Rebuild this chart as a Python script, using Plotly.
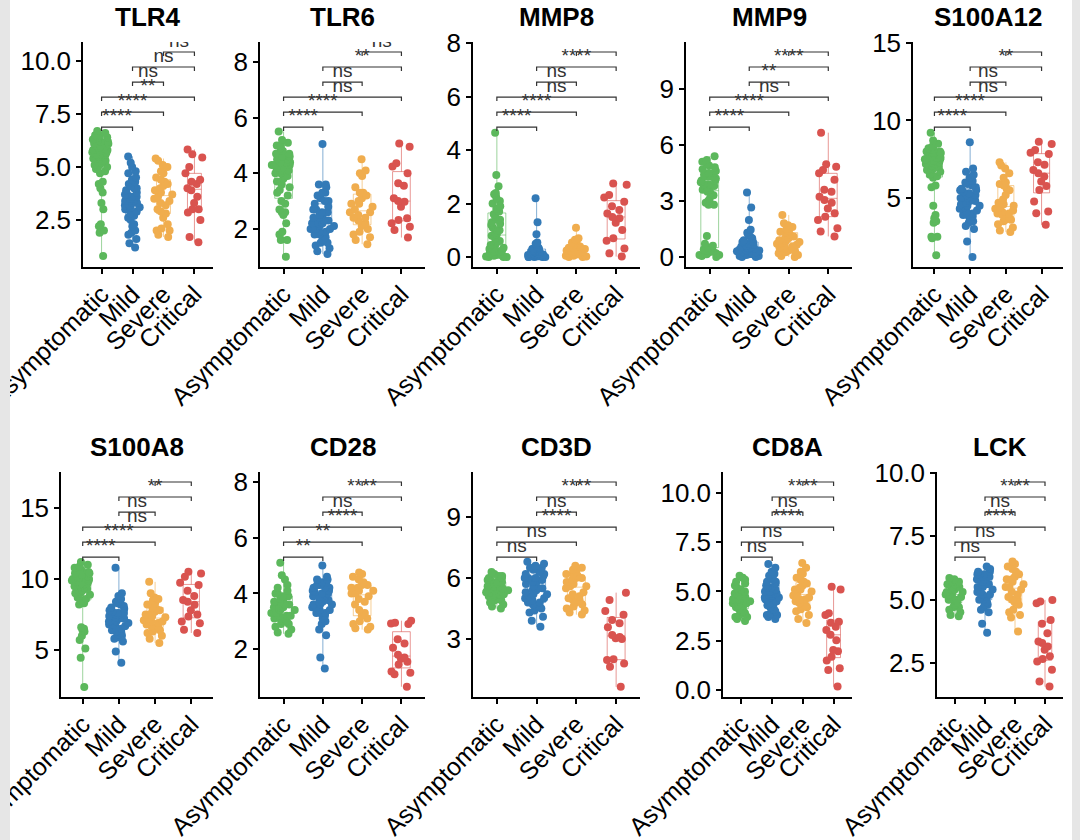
import plotly.graph_objects as go

groups = ["Asymptomatic", "Mild", "Severe", "Critical"]
colors = ["#5cb85c", "#337ab7", "#f0ad4e", "#d9534f"]
genes = ["TLR4", "TLR6", "MMP8", "MMP9", "S100A12", "S100A8", "CD28", "CD3D", "CD8A", "LCK"]
pairs = [(0, 1), (0, 2), (0, 3), (1, 2), (1, 3), (2, 3)]

# ---------------- data ----------------
tlr4_asym = [0.8, 1.9, 2.0, 2.2, 2.3, 3.0, 3.3, 3.8, 4.0, 4.2, 4.3, 4.7, 4.8, 4.9, 5.0, 5.1, 5.1, 5.2, 5.3, 5.3, 5.4, 5.4, 5.5, 5.5, 5.6, 5.6, 5.7, 5.7, 5.8, 5.8, 5.9, 5.9, 6.0, 6.0, 6.1, 6.1, 6.2, 6.2, 6.3, 6.3, 6.4, 6.4, 6.5, 6.5, 6.6, 6.7, 5.0, 5.2, 5.6, 6.0]
tlr4_mild = [1.2, 1.4, 1.6, 1.8, 1.9, 2.0, 2.2, 2.3, 2.5, 2.6, 2.7, 2.8, 2.9, 3.0, 3.0, 3.1, 3.1, 3.2, 3.2, 3.3, 3.3, 3.4, 3.4, 3.4, 3.5, 3.5, 3.6, 3.6, 3.7, 3.7, 3.8, 3.9, 4.0, 4.0, 4.1, 4.2, 4.3, 4.4, 4.5, 4.7, 4.8, 5.0, 5.2, 5.5]
tlr4_severe = [1.7, 1.8, 2.0, 2.0, 2.1, 2.3, 2.6, 2.8, 2.9, 3.0, 3.2, 3.3, 3.4, 3.5, 3.6, 3.7, 3.8, 3.9, 4.0, 4.1, 4.2, 4.3, 4.4, 4.5, 4.7, 4.8, 5.0, 5.1, 5.3, 5.4]
tlr4_critical = [1.45, 1.7, 2.5, 2.85, 3.0, 3.0, 3.3, 3.6, 3.9, 4.0, 4.2, 4.3, 4.4, 4.7, 5.0, 5.45, 5.6, 5.83]

tlr6_asym = [1.0, 1.6, 1.6, 1.8, 1.9, 2.2, 2.5, 2.6, 2.6, 2.7, 2.9, 3.0, 3.3, 3.4, 3.5, 3.6, 3.7, 3.7, 3.8, 3.9, 4.0, 4.0, 4.1, 4.1, 4.2, 4.2, 4.3, 4.3, 4.4, 4.4, 4.5, 4.5, 4.6, 4.6, 4.7, 4.7, 4.8, 4.9, 5.0, 5.0, 5.1, 5.2, 5.5, 4.3, 3.9, 4.1, 4.4, 3.2]
tlr6_mild = [1.1, 1.2, 1.3, 1.4, 1.5, 1.6, 1.7, 1.8, 1.8, 1.9, 1.9, 2.0, 2.0, 2.1, 2.1, 2.2, 2.2, 2.3, 2.3, 2.4, 2.4, 2.5, 2.5, 2.6, 2.6, 2.7, 2.7, 2.8, 2.9, 3.0, 3.0, 3.1, 3.2, 3.3, 3.3, 3.5, 3.6, 3.6, 5.05, 2.2, 2.0, 1.5]
tlr6_severe = [1.45, 1.6, 1.7, 1.8, 1.9, 2.0, 2.1, 2.2, 2.3, 2.4, 2.5, 2.6, 2.6, 2.7, 2.8, 2.9, 3.0, 3.1, 3.2, 3.3, 3.3, 3.5, 3.9, 4.0, 4.1, 4.5, 2.4, 2.9]
tlr6_critical = [1.69, 1.96, 2.08, 2.32, 2.38, 2.8, 2.98, 3.1, 3.55, 3.64, 4.0, 4.24, 4.36, 4.95, 5.07, 2.2, 3.0]

mmp8_asym = [0.0, 0.0, 0.02, 0.05, 0.05, 0.08, 0.1, 0.1, 0.15, 0.2, 0.25, 0.3, 0.35, 0.4, 0.45, 0.5, 0.55, 0.6, 0.7, 0.8, 0.85, 0.9, 1.0, 1.1, 1.2, 1.25, 1.3, 1.4, 1.5, 1.6, 1.7, 1.8, 1.9, 2.0, 2.1, 2.2, 2.3, 2.35, 2.4, 2.65, 3.07, 4.65, 0.0, 0.3, 1.0, 1.4, 0.2, 0.6]
mmp8_mild = [0.0, 0.0, 0.0, 0.0, 0.02, 0.03, 0.05, 0.05, 0.07, 0.1, 0.1, 0.12, 0.15, 0.15, 0.18, 0.2, 0.2, 0.22, 0.25, 0.25, 0.3, 0.3, 0.35, 0.4, 0.45, 0.5, 0.55, 0.85, 1.3, 2.2, 0.0, 0.05, 0.1, 0.08, 0.2, 0.12, 0.3, 0.02, 0.15, 0.06]
mmp8_severe = [0.0, 0.0, 0.02, 0.05, 0.08, 0.1, 0.1, 0.15, 0.15, 0.2, 0.2, 0.25, 0.3, 0.3, 0.35, 0.35, 0.4, 0.45, 0.5, 0.55, 0.6, 0.65, 0.7, 1.1, 0.05, 0.25, 0.4, 0.12]
mmp8_critical = [0.02, 0.14, 0.32, 0.61, 0.7, 1.01, 1.28, 1.45, 1.5, 1.63, 1.76, 2.07, 2.23, 2.32, 2.7, 2.75, 1.9]

mmp9_asym = [2.8, 2.8, 2.9, 3.0, 3.1, 3.3, 3.4, 3.5, 3.6, 3.6, 3.7, 3.8, 3.9, 3.9, 4.0, 4.1, 4.1, 4.2, 4.3, 4.3, 4.4, 4.5, 4.5, 4.6, 4.7, 4.8, 4.9, 5.0, 5.1, 5.2, 5.4, 0.0, 0.05, 0.1, 0.1, 0.15, 0.2, 0.25, 0.3, 0.35, 0.4, 0.45, 0.5, 0.6, 0.7, 1.12]
mmp9_mild = [0.0, 0.0, 0.05, 0.1, 0.1, 0.15, 0.2, 0.2, 0.25, 0.3, 0.3, 0.35, 0.4, 0.4, 0.45, 0.5, 0.5, 0.55, 0.6, 0.65, 0.7, 0.75, 0.8, 0.9, 1.0, 1.1, 1.2, 1.3, 1.45, 1.98, 2.65, 3.45, 0.05, 0.2, 0.35, 0.6, 0.15, 0.25, 0.45, 0.8]
mmp9_severe = [0.0, 0.05, 0.1, 0.2, 0.3, 0.35, 0.4, 0.45, 0.5, 0.55, 0.6, 0.7, 0.75, 0.8, 0.85, 0.9, 1.0, 1.0, 1.1, 1.2, 1.3, 1.35, 1.4, 1.5, 1.6, 1.7, 1.8, 2.25, 0.25, 0.65]
mmp9_critical = [1.1, 1.36, 1.54, 1.98, 2.16, 2.34, 2.6, 2.91, 3.05, 3.23, 3.5, 3.6, 4.13, 4.48, 4.66, 4.84, 4.97, 6.66]

s100a12_asym = [1.3, 2.4, 2.5, 2.5, 3.4, 3.5, 3.7, 3.9, 4.5, 5.7, 5.8, 6.3, 6.4, 6.5, 6.6, 6.7, 6.8, 6.9, 7.0, 7.0, 7.1, 7.2, 7.2, 7.3, 7.3, 7.4, 7.4, 7.5, 7.5, 7.6, 7.6, 7.7, 7.8, 7.8, 7.9, 8.0, 8.0, 8.1, 8.2, 8.3, 8.5, 8.7, 9.2, 7.0, 7.5, 6.8, 7.9, 8.1]
s100a12_mild = [1.2, 2.2, 3.0, 3.2, 3.4, 3.5, 3.6, 3.8, 3.9, 4.0, 4.1, 4.2, 4.3, 4.4, 4.5, 4.6, 4.7, 4.8, 4.9, 5.0, 5.0, 5.1, 5.2, 5.3, 5.4, 5.5, 5.6, 5.7, 5.8, 5.9, 6.0, 6.1, 6.3, 6.5, 6.7, 6.9, 8.6, 4.5, 5.2, 3.9, 4.8, 5.5]
s100a12_severe = [2.8, 2.9, 3.1, 3.3, 3.5, 3.6, 3.8, 3.9, 4.0, 4.1, 4.2, 4.3, 4.4, 4.5, 4.6, 4.7, 4.9, 5.2, 5.5, 5.6, 5.8, 5.9, 6.0, 6.3, 6.6, 6.9, 7.1, 7.3, 4.0, 3.6]
s100a12_critical = [3.27, 4.02, 4.13, 4.77, 5.52, 5.78, 6.06, 6.38, 6.8, 7.14, 7.3, 7.84, 7.92, 8.1, 8.48, 8.63, 6.6]

s100a8_asym = [2.4, 4.45, 5.1, 5.7, 6.0, 6.3, 6.4, 6.5, 6.6, 8.2, 8.3, 8.5, 8.6, 8.8, 8.9, 9.0, 9.1, 9.2, 9.3, 9.4, 9.5, 9.5, 9.6, 9.7, 9.7, 9.8, 9.9, 9.9, 10.0, 10.0, 10.1, 10.2, 10.2, 10.3, 10.4, 10.5, 10.6, 10.7, 10.8, 10.9, 11.0, 11.2, 9.6, 10.1, 10.4, 9.0, 8.7]
s100a8_mild = [4.1, 4.9, 5.6, 5.8, 5.9, 6.0, 6.2, 6.3, 6.4, 6.5, 6.6, 6.7, 6.8, 6.9, 7.0, 7.0, 7.1, 7.2, 7.3, 7.3, 7.4, 7.5, 7.5, 7.6, 7.7, 7.8, 7.9, 8.0, 8.1, 8.2, 8.3, 8.4, 8.6, 8.8, 9.0, 10.8, 7.2, 6.8, 7.6, 6.1]
s100a8_severe = [5.5, 5.8, 6.0, 6.2, 6.3, 6.4, 6.6, 6.7, 6.8, 6.9, 7.0, 7.1, 7.2, 7.3, 7.4, 7.5, 7.6, 7.7, 7.9, 8.0, 8.2, 8.3, 8.5, 8.6, 8.7, 9.0, 9.8, 7.0, 6.5, 7.8]
s100a8_critical = [6.2, 6.42, 6.89, 7.0, 7.36, 7.5, 7.8, 8.18, 8.4, 8.53, 8.8, 9.18, 9.58, 9.74, 10.16, 10.39, 10.51]

cd28_asym = [2.55, 2.6, 2.7, 2.8, 2.9, 3.0, 3.0, 3.1, 3.1, 3.2, 3.2, 3.3, 3.3, 3.4, 3.4, 3.5, 3.5, 3.6, 3.6, 3.7, 3.7, 3.8, 3.8, 3.9, 4.0, 4.0, 4.1, 4.2, 4.3, 4.5, 4.65, 5.1, 3.5, 3.2, 2.9, 3.9]
cd28_mild = [1.3, 1.7, 2.5, 2.7, 2.9, 3.0, 3.1, 3.2, 3.3, 3.3, 3.4, 3.4, 3.5, 3.5, 3.6, 3.6, 3.7, 3.7, 3.8, 3.8, 3.9, 3.9, 4.0, 4.0, 4.1, 4.1, 4.2, 4.2, 4.3, 4.3, 4.4, 4.4, 4.5, 4.5, 4.6, 5.0, 3.9, 3.6, 4.2, 3.3, 3.75, 4.05]
cd28_severe = [2.7, 2.75, 2.8, 2.9, 3.0, 3.1, 3.2, 3.3, 3.4, 3.6, 3.8, 3.9, 4.0, 4.0, 4.1, 4.2, 4.2, 4.3, 4.3, 4.4, 4.5, 4.6, 4.7, 4.75, 3.7, 4.1]
cd28_critical = [0.65, 1.1, 1.15, 1.2, 1.45, 1.55, 1.7, 1.8, 2.05, 2.2, 2.35, 2.9, 2.92, 2.95, 3.02, 1.65]

cd3d_asym = [4.5, 4.6, 4.7, 4.8, 4.9, 5.0, 5.0, 5.1, 5.1, 5.2, 5.2, 5.3, 5.3, 5.4, 5.4, 5.5, 5.5, 5.5, 5.6, 5.6, 5.7, 5.7, 5.8, 5.8, 5.9, 5.9, 6.0, 6.0, 6.1, 6.1, 6.2, 6.3, 5.4, 5.6, 5.2, 4.9]
cd3d_mild = [3.6, 3.9, 4.1, 4.3, 4.4, 4.5, 4.6, 4.7, 4.8, 4.9, 5.0, 5.1, 5.2, 5.3, 5.4, 5.5, 5.6, 5.7, 5.8, 5.9, 6.0, 6.0, 6.1, 6.2, 6.3, 6.4, 6.5, 6.6, 6.7, 6.8, 5.5, 5.0, 6.2, 4.6, 5.8, 6.5, 5.2, 4.8, 6.0, 5.4]
cd3d_severe = [4.2, 4.3, 4.4, 4.5, 4.6, 4.7, 4.8, 4.9, 5.0, 5.1, 5.2, 5.3, 5.5, 5.6, 5.7, 5.8, 5.9, 6.0, 6.0, 6.1, 6.2, 6.3, 6.4, 6.5, 6.6, 5.6, 4.9, 6.2]
cd3d_critical = [0.65, 1.64, 1.8, 1.97, 2.0, 3.0, 3.04, 3.1, 3.2, 3.58, 3.77, 3.93, 4.19, 4.38, 4.92, 5.28]

cd8a_asym = [3.5, 3.6, 3.7, 3.8, 3.9, 4.0, 4.1, 4.2, 4.3, 4.3, 4.4, 4.4, 4.5, 4.5, 4.6, 4.6, 4.7, 4.7, 4.8, 4.8, 4.9, 5.0, 5.0, 5.1, 5.2, 5.3, 5.4, 5.5, 5.6, 5.7, 5.8, 4.5, 4.0, 5.0, 3.7]
cd8a_mild = [3.6, 3.7, 3.8, 3.9, 4.0, 4.1, 4.2, 4.3, 4.4, 4.5, 4.6, 4.6, 4.7, 4.7, 4.8, 4.8, 4.9, 4.9, 5.0, 5.0, 5.1, 5.2, 5.3, 5.4, 5.5, 5.6, 5.7, 5.8, 5.9, 6.0, 6.2, 6.4, 4.4, 5.2, 3.8, 4.9, 5.5, 4.1, 4.7, 5.0]
cd8a_severe = [3.4, 3.6, 3.8, 4.0, 4.1, 4.2, 4.3, 4.4, 4.5, 4.6, 4.7, 4.8, 4.9, 5.0, 5.1, 5.2, 5.3, 5.4, 5.5, 5.6, 5.7, 5.9, 6.0, 6.2, 6.45, 4.6, 5.1, 4.3]
cd8a_critical = [0.17, 1.01, 1.1, 1.49, 1.69, 1.96, 2.03, 2.52, 2.8, 3.04, 3.21, 3.41, 3.46, 3.8, 3.9, 5.1, 5.24]

lck_asym = [4.35, 4.4, 4.5, 4.6, 4.7, 4.8, 4.9, 5.0, 5.0, 5.1, 5.1, 5.2, 5.2, 5.3, 5.3, 5.4, 5.4, 5.5, 5.5, 5.6, 5.6, 5.7, 5.7, 5.8, 5.85, 5.0, 5.3, 4.7, 5.5]
lck_mild = [3.7, 4.05, 4.5, 4.6, 4.7, 4.8, 4.9, 5.0, 5.1, 5.2, 5.3, 5.4, 5.5, 5.6, 5.6, 5.7, 5.7, 5.8, 5.8, 5.9, 5.9, 6.0, 6.0, 6.1, 6.1, 6.2, 6.3, 5.3, 5.0, 5.5, 4.8, 6.0, 5.6, 5.2]
lck_severe = [3.75, 4.3, 4.4, 4.5, 4.6, 4.8, 4.9, 5.0, 5.1, 5.2, 5.3, 5.4, 5.5, 5.6, 5.7, 5.8, 5.9, 6.0, 6.1, 6.2, 6.3, 6.4, 6.5, 5.5, 5.0, 5.8]
lck_critical = [1.58, 1.78, 2.24, 2.57, 2.66, 2.77, 3.03, 3.16, 3.29, 3.35, 3.68, 4.05, 4.2, 4.86, 4.93, 4.99]

# significance labels for comparisons (A-M, A-S, A-C, M-S, M-C, S-C)
tlr4_sig = ["****", "****", "**", "ns", "ns", "ns"]
tlr6_sig = ["****", "****", "ns", "ns", "**", "ns"]
mmp8_sig = ["****", "****", "ns", "ns", "****", "****"]
mmp9_sig = ["****", "****", "ns", "**", "****", "****"]
s100a12_sig = ["****", "****", "ns", "ns", "**", "**"]
s100a8_sig = ["****", "****", "ns", "ns", "**", "**"]
cd28_sig = ["**", "**", "****", "ns", "****", "****"]
cd3d_sig = ["ns", "ns", "****", "ns", "****", "****"]
cd8a_sig = ["ns", "ns", "****", "ns", "****", "****"]
lck_sig = ["ns", "ns", "****", "ns", "****", "****"]

data = {
    "TLR4": [tlr4_asym, tlr4_mild, tlr4_severe, tlr4_critical],
    "TLR6": [tlr6_asym, tlr6_mild, tlr6_severe, tlr6_critical],
    "MMP8": [mmp8_asym, mmp8_mild, mmp8_severe, mmp8_critical],
    "MMP9": [mmp9_asym, mmp9_mild, mmp9_severe, mmp9_critical],
    "S100A12": [s100a12_asym, s100a12_mild, s100a12_severe, s100a12_critical],
    "S100A8": [s100a8_asym, s100a8_mild, s100a8_severe, s100a8_critical],
    "CD28": [cd28_asym, cd28_mild, cd28_severe, cd28_critical],
    "CD3D": [cd3d_asym, cd3d_mild, cd3d_severe, cd3d_critical],
    "CD8A": [cd8a_asym, cd8a_mild, cd8a_severe, cd8a_critical],
    "LCK": [lck_asym, lck_mild, lck_severe, lck_critical],
}
sigs = {"TLR4": tlr4_sig, "TLR6": tlr6_sig, "MMP8": mmp8_sig, "MMP9": mmp9_sig,
        "S100A12": s100a12_sig, "S100A8": s100a8_sig, "CD28": cd28_sig,
        "CD3D": cd3d_sig, "CD8A": cd8a_sig, "LCK": lck_sig}

# ---------------- layout / style ----------------
W, H = 1080, 840
FONT = "Liberation Sans, Arial, sans-serif"
x_px = {"TLR4": (83, 213), "TLR6": (260, 425), "MMP8": (473, 640), "MMP9": (686, 852),
        "S100A12": (913, 1063), "S100A8": (61, 213), "CD28": (260, 425),
        "CD3D": (473, 640), "CD8A": (723, 852), "LCK": (937, 1063)}
row_px = [(42, 267), (472, 697)]
title_py = [17, 447]
y_ranges = {"TLR4": (0.28, 10.9), "TLR6": (0.63, 8.72), "MMP8": (-0.37, 8.04),
            "MMP9": (-0.54, 11.52), "S100A12": (0.55, 15.06), "S100A8": (1.69, 17.54),
            "CD28": (0.28, 8.36), "CD3D": (0.15, 11.21), "CD8A": (-0.36, 11.07),
            "LCK": (1.17, 10.02)}
y_dtick = {"TLR4": 2.5, "TLR6": 2, "MMP8": 2, "MMP9": 3, "S100A12": 5, "S100A8": 5,
           "CD28": 2, "CD3D": 3, "CD8A": 2.5, "LCK": 2.5}
y_fmt = {"TLR4": ".1f", "CD8A": ".1f", "LCK": ".1f"}

bracket_f0, bracket_df = 0.622, 0.0667   # fractions of axis height
bracket_drop_px = 4


def rgba(hexc, a):
    h = hexc.lstrip("#")
    return "rgba(%d,%d,%d,%.2f)" % (int(h[0:2], 16), int(h[2:4], 16), int(h[4:6], 16), a)


fig = go.Figure()
annotations = []
axis_common = dict(showline=True, linecolor="black", linewidth=1.5, ticks="outside",
                   ticklen=5, tickwidth=1.5, tickcolor="black", showgrid=False,
                   zeroline=False, automargin=False, ticklabeloverflow="allow")

for k, gene in enumerate(genes):
    n = k + 1
    xa = "x" if n == 1 else "x%d" % n
    ya = "y" if n == 1 else "y%d" % n
    row = 0 if k < 5 else 1
    top, bot = row_px[row]
    r0, r1 = y_ranges[gene]
    for g in range(4):
        vals = data[gene][g]
        xs = [g] * len(vals)
        fig.add_trace(go.Box(x=xs, y=vals, width=0.45, boxpoints=False, whiskerwidth=0,
                             line=dict(color=rgba(colors[g], 0.6), width=1),
                             fillcolor="rgba(255,255,255,0)", xaxis=xa, yaxis=ya,
                             showlegend=False, hoverinfo="skip"))
        fig.add_trace(go.Box(x=xs, y=vals, width=0.64, boxpoints="all", jitter=1, pointpos=0,
                             marker=dict(color=colors[g], size=8, opacity=1),
                             line=dict(color="rgba(0,0,0,0)", width=0),
                             fillcolor="rgba(0,0,0,0)", xaxis=xa, yaxis=ya,
                             showlegend=False))
    # brackets
    span = r1 - r0
    drop = bracket_drop_px / (bot - top) * span
    bx, by, lx, ly = [], [], [], []
    for i, (a, b) in enumerate(pairs):
        yl = r0 + (bracket_f0 + bracket_df * i) * span
        bx += [a, a, b, b, None]
        by += [yl - drop, yl, yl, yl - drop, None]
        lx.append((a + b) / 2)
        ly.append(yl)
    fig.add_trace(go.Scatter(x=bx, y=by, mode="lines", line=dict(color="#333333", width=1.2),
                             xaxis=xa, yaxis=ya, showlegend=False, hoverinfo="skip",
                             cliponaxis=True))
    fig.add_trace(go.Scatter(x=lx, y=ly, mode="text", text=sigs[gene],
                             textposition="top center",
                             textfont=dict(family=FONT, size=19, color="#333333"),
                             xaxis=xa, yaxis=ya, showlegend=False, hoverinfo="skip",
                             cliponaxis=True))
    l, r = x_px[gene]
    fig.update_layout(**{
        ("xaxis" if n == 1 else "xaxis%d" % n): dict(
            domain=[l / W, r / W], range=[-0.6, 3.6], anchor=ya,
            tickmode="array", tickvals=[0, 1, 2, 3], ticktext=groups, tickangle=-45,
            ticklabelstandoff=-4,
            tickfont=dict(family=FONT, size=25, color="black"), **axis_common),
        ("yaxis" if n == 1 else "yaxis%d" % n): dict(
            domain=[1 - bot / H, 1 - top / H], range=[r0, r1], anchor=xa,
            tick0=0, dtick=y_dtick[gene], tickformat=y_fmt.get(gene, ""),
            tickfont=dict(family=FONT, size=26, color="black"), **axis_common),
    })
    annotations.append(dict(text="<b>%s</b>" % gene, x=(l + r) / 2 / W, y=1 - title_py[row] / H,
                            xref="paper", yref="paper", xanchor="center", yanchor="middle",
                            showarrow=False, font=dict(family=FONT, size=26, color="black")))

fig.update_layout(
    template="none",
    width=W, height=H, margin=dict(l=0, r=0, t=0, b=0, pad=0, autoexpand=False),
    paper_bgcolor="white", plot_bgcolor="white",
    font=dict(family=FONT, color="black"),
    boxmode="overlay",
    annotations=annotations,
    shapes=[
        dict(type="rect", xref="paper", yref="paper", x0=0, x1=10 / W, y0=0, y1=1,
             fillcolor="#e6e6e6", line=dict(width=0), layer="above"),
        dict(type="rect", xref="paper", yref="paper", x0=1072 / W, x1=1, y0=0, y1=1,
             fillcolor="#e6e6e6", line=dict(width=0), layer="above"),
    ],
)

fig.write_html("out.html")
